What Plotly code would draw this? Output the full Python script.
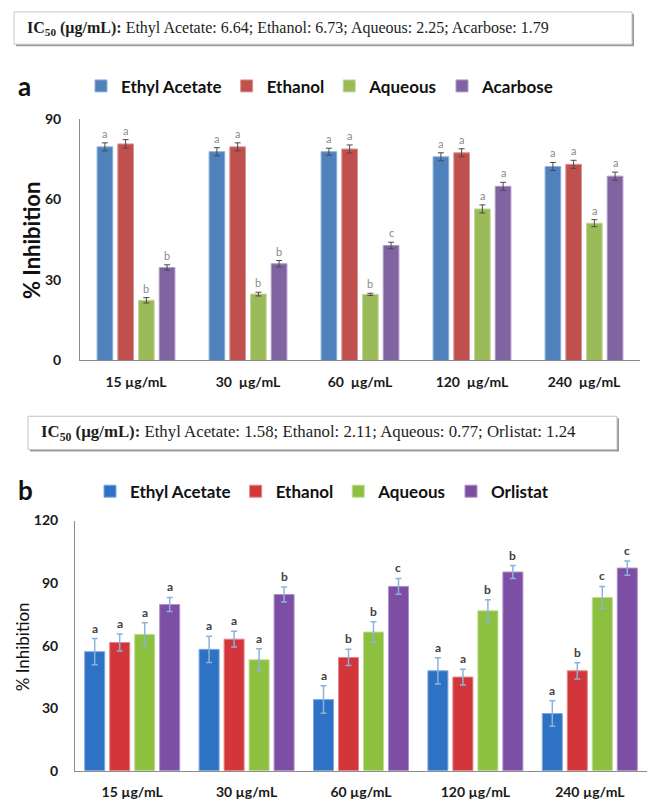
import plotly.graph_objects as go

W, H = 650, 810

# ---- data: panel a (% inhibition) ----
conc_a = ["15 µg/mL", "30\u00a0 µg/mL", "60\u00a0 µg/mL", "120\u00a0 µg/mL", "240\u00a0 µg/mL"]
names_a = ["Ethyl Acetate", "Ethanol", "Aqueous", "Acarbose"]
ea_a = [79.5, 77.7, 77.7, 75.8, 72.2]
eth_a = [80.6, 79.5, 78.7, 77.3, 73.0]
aq_a = [22.4, 24.7, 24.6, 56.4, 51.1]
acarbose_a = [34.6, 36.0, 42.8, 64.8, 68.6]
ea_a_err = [1.5, 1.5, 1.3, 1.5, 1.5]
eth_a_err = [1.6, 1.5, 1.5, 1.5, 1.5]
aq_a_err = [1.0, 0.7, 0.4, 1.5, 1.3]
acarbose_a_err = [1.0, 1.2, 1.2, 1.5, 1.5]
ea_a_sig = ["a", "a", "a", "a", "a"]
eth_a_sig = ["a", "a", "a", "a", "a"]
aq_a_sig = ["b", "b", "b", "a", "a"]
acarbose_a_sig = ["b", "b", "c", "a", "a"]
ic50_a = "<b>IC<sub>50</sub> (µg/mL):</b> Ethyl Acetate: 6.64; Ethanol: 6.73; Aqueous: 2.25; Acarbose: 1.79"

# ---- data: panel b ----
conc_b = ["15 µg/mL", "30 µg/mL", "60 µg/mL", "120 µg/mL", "240 µg/mL"]
names_b = ["Ethyl Acetate", "Ethanol", "Aqueous", "Orlistat"]
ea_b = [57.1, 58.2, 34.1, 47.9, 27.4]
eth_b = [61.5, 63.1, 54.3, 44.9, 47.9]
aq_b = [65.4, 53.2, 66.5, 76.7, 83.1]
orlistat_b = [79.7, 84.5, 88.4, 95.3, 97.2]
ea_b_err = [6.3, 6.3, 6.6, 6.3, 6.1]
eth_b_err = [4.1, 3.8, 3.9, 3.8, 3.9]
aq_b_err = [5.6, 5.3, 4.9, 5.3, 5.3]
orlistat_b_err = [3.4, 3.6, 3.8, 3.1, 3.4]
ea_b_sig = ["a", "a", "a", "a", "a"]
eth_b_sig = ["a", "a", "b", "a", "b"]
aq_b_sig = ["a", "a", "b", "b", "c"]
orlistat_b_sig = ["a", "b", "c", "b", "c"]
ic50_b = "<b>IC<sub>50</sub> (µg/mL):</b> Ethyl Acetate: 1.58; Ethanol: 2.11; Aqueous: 0.77; Orlistat: 1.24"

colors_a = ["#4F81BD", "#C0504D", "#9BBB59", "#8064A2"]
edges_a = ["#8FB0DA", "#DC9391", "#C3D79B", "#AE9BC6"]
colors_b = ["#2E72C6", "#D2363A", "#8CC03E", "#7C4EA4"]
edges_b = ["#7FA8DC", "#E58688", "#BFDD95", "#AF92C9"]

SANS = "Lato"


def px(x):
    return x / W


def py(y):
    return 1 - y / H


fig = go.Figure()
annotations = []


def add_panel(xa, ya, cats, names, vals, errs, sigs, colors, edges, legend,
              pitch, width, err_color, err_thick, sig_font):
    for i, name in enumerate(names):
        off = (i - 2) * pitch + (pitch - width) / 2
        fig.add_trace(go.Bar(
            x=cats, y=vals[i], name=name, xaxis=xa, yaxis=ya, legend=legend,
            width=width, offset=off,
            marker=dict(color=colors[i], line=dict(color=edges[i], width=1)),
            error_y=dict(type="data", array=errs[i], color=err_color,
                         thickness=err_thick, width=3),
        ))
        for j, s in enumerate(sigs[i]):
            annotations.append(dict(
                x=j + off + width / 2, y=vals[i][j] + errs[i][j],
                xref=xa, yref=ya, text=s, showarrow=False,
                yanchor="bottom", yshift=1, font=sig_font))


add_panel("x", "y", conc_a, names_a,
          [ea_a, eth_a, aq_a, acarbose_a],
          [ea_a_err, eth_a_err, aq_a_err, acarbose_a_err],
          [ea_a_sig, eth_a_sig, aq_a_sig, acarbose_a_sig],
          colors_a, edges_a, "legend", 0.185, 0.14, "#4a4a4a", 1,
          dict(family=SANS, size=11, color="#8a8a8a"))

add_panel("x2", "y2", conc_b, names_b,
          [ea_b, eth_b, aq_b, orlistat_b],
          [ea_b_err, eth_b_err, aq_b_err, orlistat_b_err],
          [ea_b_sig, eth_b_sig, aq_b_sig, orlistat_b_sig],
          colors_b, edges_b, "legend2", 0.2185, 0.175, "#8DB2DA", 1.5,
          dict(family=SANS, size=12, color="#404040", weight="bold"))

axis_line = "#8c8c8c"
tick_font = dict(family=SANS, size=14, color="#1a1a1a", weight="bold")

xcommon = dict(type="category", range=[-0.5, 4.5], showline=True, linecolor=axis_line,
               linewidth=1, showgrid=False, ticks="", tickfont=tick_font,
               ticklabelstandoff=9, fixedrange=True)
ycommon = dict(showline=True, linecolor=axis_line, linewidth=1, showgrid=False,
               zeroline=False, ticks="", tickfont=tick_font)

# text boxes with a little drop shadow
shapes = []
for (x0, y0, x1, y1) in [(14, 3, 632, 36), (28, 416, 617, 450)]:
    shapes.append(dict(type="rect", xref="paper", yref="paper",
                       x0=px(x0 + 2), y0=py(y1 + 2), x1=px(x1 + 2), y1=py(y0 + 2),
                       fillcolor="#9a9a9a", line=dict(width=0)))
    shapes.append(dict(type="rect", xref="paper", yref="paper",
                       x0=px(x0), y0=py(y1), x1=px(x1), y1=py(y0),
                       fillcolor="white", line=dict(color="#c4c4c4", width=1)))

annotations += [
    dict(x=px(25), y=py(20), xref="paper", yref="paper", xanchor="left", yanchor="middle",
         text=ic50_a, showarrow=False,
         font=dict(family="Liberation Serif", size=16, color="#1e1e1e")),
    dict(x=px(39), y=py(433), xref="paper", yref="paper", xanchor="left", yanchor="middle",
         text=ic50_b, showarrow=False,
         font=dict(family="Liberation Serif", size=16.8, color="#1e1e1e")),
    dict(x=px(16), y=py(79), xref="paper", yref="paper", xanchor="left", yanchor="middle",
         text="a", showarrow=False, font=dict(family=SANS, size=26, color="#111", weight="bold")),
    dict(x=px(16), y=py(491), xref="paper", yref="paper", xanchor="left", yanchor="middle",
         text="b", showarrow=False, font=dict(family=SANS, size=26, color="#111", weight="bold")),
    dict(x=px(31), y=py(237), xref="paper", yref="paper", textangle=-90,
         xanchor="center", yanchor="middle",
         text="% Inhibition", showarrow=False,
         font=dict(family=SANS, size=22, color="#111", weight="bold")),
    dict(x=px(22), y=py(652), xref="paper", yref="paper", textangle=-90,
         xanchor="center", yanchor="middle",
         text="% Inhibition", showarrow=False,
         font=dict(family=SANS, size=17, color="#111")),
]

legend_font = dict(family=SANS, size=17, color="#111", weight="bold")

fig.update_layout(
    width=W, height=H, margin=dict(l=0, r=0, t=0, b=0),
    paper_bgcolor="white", plot_bgcolor="white",
    barmode="overlay", showlegend=True,
    xaxis=dict(xcommon, domain=[px(80), px(640)], anchor="y"),
    yaxis=dict(ycommon, domain=[py(359), py(112)], anchor="x",
               range=[0, 90], tickvals=[0, 30, 60, 90], ticklabelstandoff=15),
    xaxis2=dict(xcommon, domain=[px(75), px(647)], anchor="y2"),
    yaxis2=dict(ycommon, domain=[py(778), py(522.5)], anchor="x2",
                range=[0, 120], tickvals=[0, 30, 60, 90, 120], ticklabelstandoff=13),
    legend=dict(orientation="h", x=px(81), y=py(79), xanchor="left", yanchor="middle",
                font=legend_font, bgcolor="rgba(0,0,0,0)", itemclick=False),
    legend2=dict(orientation="h", x=px(90), y=py(493), xanchor="left", yanchor="middle",
                 font=legend_font, bgcolor="rgba(0,0,0,0)", itemclick=False),
    shapes=shapes,
    annotations=annotations,
)

# drop the browser's default body margin so the figure sits at the page corner
fig.write_html("out.html", config={"displayModeBar": False},
               post_script="document.body.style.margin = '0px';")
